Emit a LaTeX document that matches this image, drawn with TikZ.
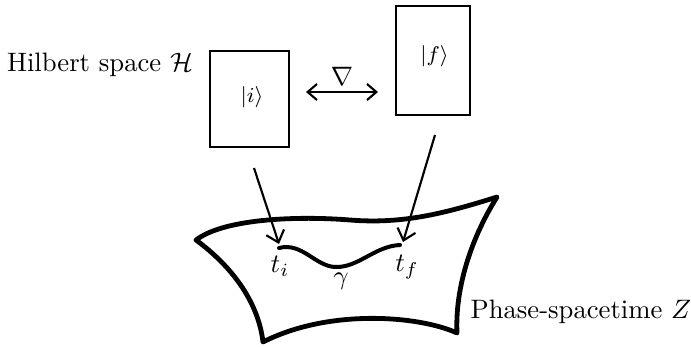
\documentclass[tikz,border=0pt]{standalone}
\usetikzlibrary{arrows.meta}
\begin{document}
\begin{tikzpicture}[x=0.375pt,y=-0.375pt,
  statebox/.style={draw,line width=1.1pt,inner sep=0pt},
  maparrow/.style={line width=0.8pt,-{Straight Barb[length=4pt,width=7pt,line width=0.8pt]}},
  surface/.style={line width=1.8pt,line join=round,line cap=round}]
\useasboundingbox (0,0) rectangle (691,347);
\node[statebox,minimum width=79*0.375pt,minimum height=96*0.375pt] (bi) at (249.5,99) {};
\node[font=\footnotesize] (ki) at (252,97) {$|i\rangle$};
\node[statebox,minimum width=74*0.375pt,minimum height=109*0.375pt] (bf) at (433,60.5) {};
\node[font=\footnotesize] (kf) at (434.5,56) {$|f\rangle$};
\node (hs) at (100,65) {Hilbert space $\mathcal{H}$};
\coordinate (dl) at (306,92);
\coordinate (dr) at (378,92);
\draw[line width=0.8pt,{Straight Barb[length=3.5pt,width=6pt,line width=0.8pt]}-{Straight Barb[length=3.5pt,width=6pt,line width=0.8pt]}] (dl) -- (dr);
\node (nabla) at (342,76) {$\nabla$};
% surface
\draw[surface] (196,240) .. controls (225,218) and (300,216) .. (350,220)
  .. controls (400,224) and (440,215) .. (497,197)
  .. controls (470,240) and (455,290) .. (457,333)
  .. controls (420,316) and (330,308) .. (263,342)
  .. controls (258,300) and (230,265) .. (196,240) -- cycle;
\coordinate (ti) at (279,248);
\coordinate (tf) at (400,245);
\draw[line width=1.5pt,line cap=round] (ti) .. controls (302,242) and (315,266) .. (335,267) .. controls (358,268) and (375,246) .. (tf);
\coordinate (ai) at (254,168);
\coordinate (af) at (435,135);
\draw[maparrow] (ai) -- (279,244);
\draw[maparrow] (af) -- (403,242);
\node (lti) at (280,266) {$t_i$};
\node (ltf) at (407,267) {$t_f$};
\node (lg) at (341,281) {$\gamma$};
\node (ps) at (581,312) {Phase-spacetime $Z$};
\end{tikzpicture}
\end{document}
